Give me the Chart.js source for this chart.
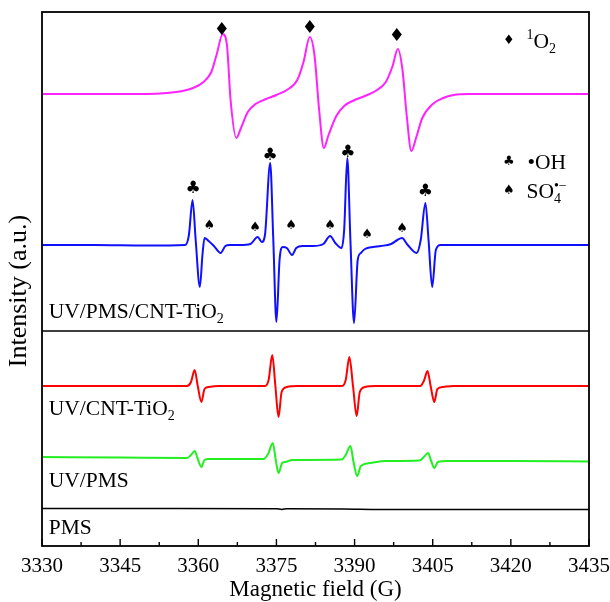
<!DOCTYPE html>
<html>
<head>
<meta charset="utf-8">
<title>EPR spectra</title>
<script src="https://cdn.jsdelivr.net/npm/chart.js@4.4.1/dist/chart.umd.min.js"></script>
<style>
  html, body { margin: 0; padding: 0; background: #fff; }
</style>
</head>
<body>
<canvas id="canvas" width="610" height="602"></canvas>
<script>
// magnetic field axis (G)
var fieldMin = 3330, fieldMax = 3435, fieldStep = 15;

// 1O2 (TEMP-1O2 triplet), UV/PMS/CNT-TiO2 upper panel
var o2Field  = [3330, 3350, 3354, 3357, 3359, 3361, 3362.5, 3363.5, 3364.7, 3365.5, 3366.2, 3367.3, 3368.2, 3369.5, 3371, 3373, 3375, 3377, 3379, 3380.2, 3381.4, 3382.3, 3383.2, 3384.1, 3385, 3386.5, 3388, 3390, 3392, 3394, 3396, 3397.3, 3398.3, 3399.2, 3400, 3400.9, 3401.8, 3403, 3405, 3407, 3409, 3412, 3435];
var o2Signal = [0, 0, 1, 3, 6, 12, 22, 39, 60, 49, -6, -44, -34, -18, -10, -5, -1, 4, 14, 32, 57, 39, -16, -54, -41, -22, -12, -6, -2, 3, 12, 28, 45, 24, -21, -57, -44, -24, -10, -4, -1, 0, 0];

// DMPO adducts, UV/PMS/CNT-TiO2
var mixField  = [3330, 3340, 3350, 3357.5, 3358.2, 3358.9, 3359.5, 3360.3, 3360.8, 3361.2, 3362, 3363, 3364.3, 3365.2, 3366, 3368, 3370, 3371.4, 3372.2, 3372.8, 3373.8, 3374.4, 3375.0, 3375.6, 3376.2, 3377, 3378, 3378.8, 3380, 3382, 3384, 3385.3, 3386.3, 3387.5, 3388, 3388.6, 3389.2, 3389.9, 3390.6, 3391.2, 3392, 3393.5, 3395, 3397, 3398.2, 3399.1, 3400.2, 3401.9, 3402.7, 3403.6, 3404.2, 3404.9, 3405.6, 3406.5, 3420, 3435];
var mixSignal = [0, 0, -0.5, 0, 10, 45, 5, -42, -10, 7, 4, -1, -8, -1, 0, 0, 1, 8, 3, 10, 82, 5, -77, -15, -2, -3, -10, -3, -1, -1, 1, 9, 2, -3, 15, 87, 5, -78, -15, -8, -4, -2, -1, 1, 5, 7, 0, -8, 5, 42, 5, -42, -5, 0, 0, 0];

// UV/CNT-TiO2
var tioField  = [3330, 3357.8, 3358.6, 3359.3, 3359.9, 3360.6, 3361.2, 3362, 3364, 3372.8, 3373.5, 3374.2, 3374.8, 3375.4, 3376, 3377, 3379, 3387.6, 3388.3, 3389.0, 3389.7, 3390.4, 3391, 3392, 3394, 3402.6, 3403.3, 3404.0, 3404.6, 3405.3, 3405.9, 3407, 3409, 3435];
var tioSignal = [0, 0, 4, 16, 0, -16, -3, -1, 0, 0, 6, 31, 0, -31, -6, -1, 0, 0, 6, 29, 0, -30, -6, -1, 0, 0, 5, 15, 0, -16, -3, -1, 0, 0];

// UV/PMS
var pmsUvField  = [3330, 3345, 3357.8, 3358.6, 3359.3, 3359.9, 3360.6, 3361.2, 3362, 3364, 3372.5, 3373.4, 3374.3, 3374.9, 3375.4, 3376.1, 3376.7, 3378, 3387.5, 3388.3, 3389.2, 3389.8, 3390.5, 3391.2, 3393, 3396, 3402.4, 3403.3, 3404.1, 3404.7, 3405.3, 3406, 3408, 3420, 3435];
var pmsUvSignal = [0, -0.5, -1, 2, 6, -2, -10, -3, -2, -2, -2, 3, 14, -4, -16, -6, -5, -3, -2.5, 2, 11, -5, -19, -9, -6, -4, -3.5, 0, 4, -4, -11, -5, -4, -4, -4.5];

// PMS alone
var pmsField  = [3330, 3350, 3375, 3376, 3377, 3388, 3395, 3435];
var pmsSignal = [0.5, 0.5, 0.3, -0.5, 0.3, 0, -0.5, -0.5];

// vertical stacking offsets of the traces
var traceOffsets = [452, 301, 160, 89, 37];
var traceColors  = ['#ff22ff', '#1010ff', '#ff0000', '#22ee22', '#000000'];
var traceWidths  = [2, 2, 2, 2, 1.5];
var panelSplit = 215;

// sample labels
var sampleLabels = [
  [['UV/PMS/CNT-TiO', ''], ['2', 'sub']],
  [['UV/CNT-TiO', ''], ['2', 'sub']],
  [['UV/PMS', '']],
  [['PMS', '']]
];
var sampleLabelLevels = [228, 131, 59, 12];

// peak markers
var o2MarkField = [3364.5, 3381.4, 3398.1];
var o2MarkLevel = [516, 518, 510];
var ohMarkField = [3359.0, 3373.8, 3388.7, 3403.6];
var ohMarkLevel = [357, 390, 393, 354];
var so4MarkField = [3362.1, 3370.9, 3377.8, 3385.3, 3392.4, 3399.1];
var so4MarkLevel = [320, 318, 320, 320, 311, 317];

function pts(xs, ys, off) {
  return xs.map(function (x, i) { return { x: x, y: ys[i] + off }; });
}

var series = [
  [o2Field, o2Signal], [mixField, mixSignal], [tioField, tioSignal],
  [pmsUvField, pmsUvSignal], [pmsField, pmsSignal]
];
var datasets = series.map(function (s, i) {
  return {
    data: pts(s[0], s[1], traceOffsets[i]),
    borderColor: traceColors[i],
    borderWidth: traceWidths[i],
    pointRadius: 0,
    fill: false,
    cubicInterpolationMode: 'monotone'
  };
});

var SERIF = 'Liberation Serif';

function drawRich(ctx, x, y, parts, size) {
  ctx.textAlign = 'left';
  ctx.textBaseline = 'alphabetic';
  var small = Math.round(size * 0.65) + 'px "' + SERIF + '"';
  parts.forEach(function (p) {
    var t = p[0], mode = p[1];
    if (mode === 'sub') {
      ctx.font = small;
      ctx.fillText(t, x, y + size * 0.22);
      x += ctx.measureText(t).width;
    } else if (mode === 'sup') {
      ctx.font = small;
      ctx.fillText(t, x, y - size * 0.4);
      x += ctx.measureText(t).width;
    } else if (mode === 'subsup') {
      ctx.font = small;
      ctx.fillText(t[0], x, y + size * 0.22);
      ctx.fillText(t[1], x, y - size * 0.36);
      x += Math.max(ctx.measureText(t[0]).width, ctx.measureText(t[1]).width);
    } else {
      ctx.font = size + 'px "' + SERIF + '"';
      ctx.fillText(t, x, y);
      x += ctx.measureText(t).width;
    }
  });
}

function symbol(ctx, ch, x, y, size) {
  ctx.font = size + 'px "DejaVu Sans"';
  ctx.textAlign = 'center';
  ctx.textBaseline = 'middle';
  ctx.fillText(ch, x, y);
}

var decor = {
  id: 'decor',
  afterDraw: function (chart) {
    var ctx = chart.ctx, a = chart.chartArea;
    var xs = chart.scales.x, ys = chart.scales.y;
    ctx.save();
    ctx.fillStyle = '#000';
    ctx.strokeStyle = '#000';

    // frame + panel divider
    ctx.lineWidth = 1.8;
    ctx.strokeRect(a.left, a.top, a.right - a.left, a.bottom - a.top);
    ctx.lineWidth = 1.5;
    var sy = ys.getPixelForValue(panelSplit);
    ctx.beginPath();
    ctx.moveTo(a.left, sy);
    ctx.lineTo(a.right, sy);
    ctx.stroke();

    // inward ticks
    ctx.lineWidth = 1.4;
    for (var v = fieldMin; v <= fieldMax + 0.01; v += fieldStep / 2) {
      var px = xs.getPixelForValue(v);
      var major = Math.abs((v - fieldMin) % fieldStep) < 0.01;
      ctx.beginPath();
      ctx.moveTo(px, a.bottom);
      ctx.lineTo(px, a.bottom - (major ? 7 : 4));
      ctx.stroke();
    }

    // sample labels
    sampleLabels.forEach(function (parts, i) {
      drawRich(ctx, xs.getPixelForValue(3331.3), ys.getPixelForValue(sampleLabelLevels[i]), parts, 21.5);
    });

    // markers
    o2MarkField.forEach(function (f, i) {
      symbol(ctx, '\u2666', xs.getPixelForValue(f), ys.getPixelForValue(o2MarkLevel[i]), 18);
    });
    ohMarkField.forEach(function (f, i) {
      symbol(ctx, '\u2663', xs.getPixelForValue(f), ys.getPixelForValue(ohMarkLevel[i]), 17);
    });
    so4MarkField.forEach(function (f, i) {
      symbol(ctx, '\u2660', xs.getPixelForValue(f), ys.getPixelForValue(so4MarkLevel[i]), 13);
    });

    // key
    var kx = xs.getPixelForValue(3419.6), tx = xs.getPixelForValue(3423.0);
    var k1 = ys.getPixelForValue(505), k2 = ys.getPixelForValue(384), k3 = ys.getPixelForValue(355);
    symbol(ctx, '\u2666', kx, k1, 13);
    symbol(ctx, '\u2663', kx, k2, 13);
    symbol(ctx, '\u2660', kx, k3, 13);
    drawRich(ctx, tx, k1 + 7, [['1', 'sup'], ['O', ''], ['2', 'sub']], 21.5);
    drawRich(ctx, tx + 1, k2 + 7, [['\u2022OH', '']], 21.5);
    drawRich(ctx, tx, k3 + 7, [['SO', ''], [['4', '\u2022\u2212'], 'subsup']], 21.5);

    // y title
    ctx.translate(19, 291);
    ctx.rotate(-Math.PI / 2);
    ctx.font = '26px "' + SERIF + '"';
    ctx.textAlign = 'center';
    ctx.textBaseline = 'middle';
    ctx.fillText('Intensity (a.u.)', 0, 0);
    ctx.restore();
  }
};

new Chart(document.getElementById('canvas').getContext('2d'), {
  type: 'line',
  data: { datasets: datasets },
  options: {
    responsive: false,
    animation: false,
    events: [],
    layout: { padding: { left: 42, right: 21, top: 12, bottom: 0 } },
    plugins: { legend: { display: false }, tooltip: { enabled: false } },
    scales: {
      x: {
        type: 'linear', min: fieldMin, max: fieldMax,
        afterFit: function (scale) {
          scale.height = 56;
          scale.paddingLeft = 0;
          scale.paddingRight = 0;
        },
        ticks: { stepSize: fieldStep, color: '#000', padding: 8, maxRotation: 0, autoSkip: false,
                 font: { family: SERIF, size: 21, lineHeight: 1.2 },
                 callback: function (v) { return String(v); } },
        grid: { display: false, drawTicks: false },
        border: { display: false },
        title: { display: true, text: 'Magnetic field (G)', color: '#000',
                 font: { family: SERIF, size: 23, lineHeight: 1 }, padding: { top: 0, bottom: 1 } }
      },
      y: { display: false, min: 0, max: 534 }
    }
  },
  plugins: [decor]
});
</script>
</body>
</html>
